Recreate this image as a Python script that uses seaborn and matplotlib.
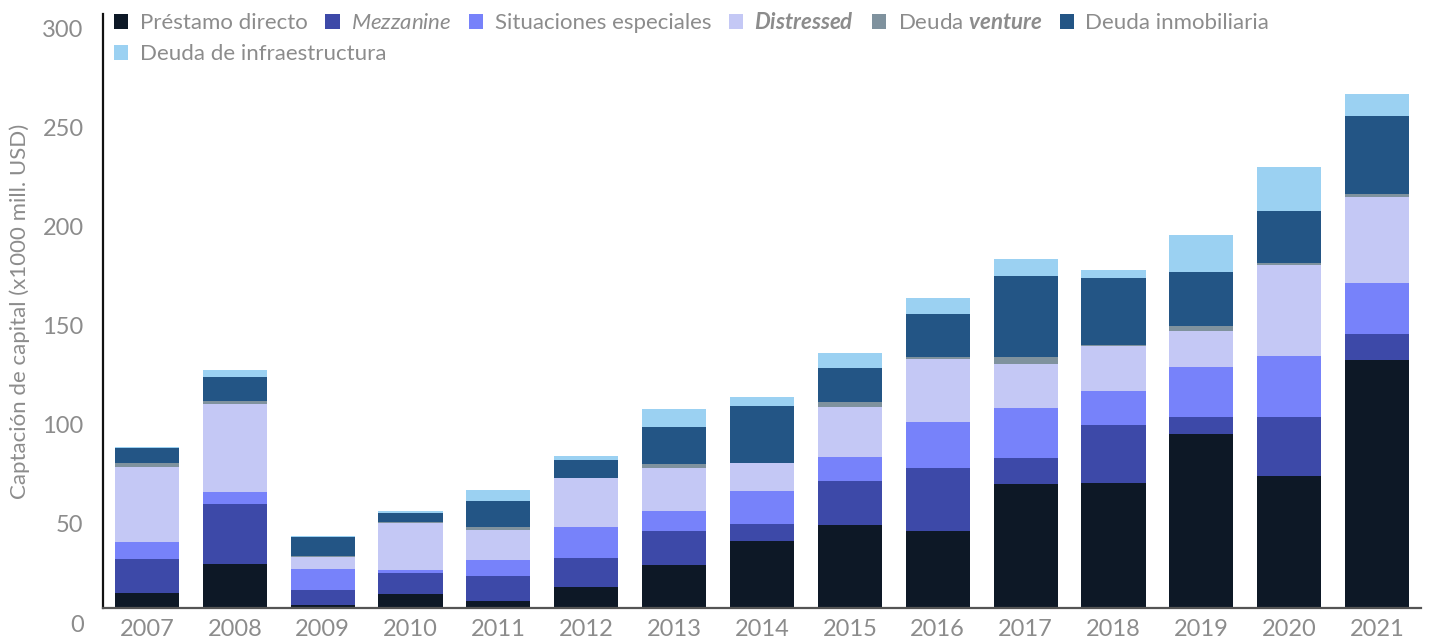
import numpy as np
import pandas as pd
import matplotlib
matplotlib.use("Agg")
import matplotlib.pyplot as plt
import matplotlib.transforms as mtransforms
from matplotlib.patches import Patch
import seaborn as sns

# ---------------- data ----------------
years = ["2007", "2008", "2009", "2010", "2011", "2012", "2013", "2014",
         "2015", "2016", "2017", "2018", "2019", "2020", "2021"]
prestamo_directo = [7.6, 22.2, 1.5, 7.1, 3.5, 10.6, 21.7, 33.8, 41.9, 38.9, 62.6, 63.1, 87.9, 66.7, 125.3]
mezzanine = [17.2, 30.3, 7.6, 10.6, 12.6, 14.6, 17.2, 8.6, 22.2, 31.8, 13.1, 29.3, 8.6, 29.8, 13.1]
situaciones_especiales = [8.6, 6.1, 10.6, 1.5, 8.1, 15.7, 10.1, 16.7, 12.1, 23.2, 25.3, 17.2, 25.3, 30.8, 25.8]
distressed = [37.9, 44.4, 6.1, 23.7, 15.2, 24.7, 21.7, 14.1, 25.3, 31.8, 22.2, 22.7, 18.2, 46.0, 43.4]
deuda_venture = [2.0, 1.5, 0.7, 0.5, 1.5, 0.3, 2.0, 0.0, 2.5, 1.0, 3.5, 0.5, 2.5, 1.0, 1.5]
deuda_inmobiliaria = [7.6, 12.1, 9.4, 4.5, 13.1, 9.1, 18.7, 28.8, 17.2, 21.7, 40.9, 33.8, 27.3, 26.3, 39.4]
deuda_infraestructura = [0.4, 3.5, 0.5, 1.0, 5.6, 2.0, 9.1, 4.5, 7.6, 8.1, 8.6, 4.0, 18.7, 22.2, 11.1]

series_labels = [
    "Préstamo directo",
    r"$\it{Mezzanine}$",
    "Situaciones especiales",
    r"$\mathbfit{Distressed}$",
    r"Deuda $\mathbfit{venture}$",
    "Deuda inmobiliaria",
    "Deuda de infraestructura",
]
series_values = [prestamo_directo, mezzanine, situaciones_especiales, distressed,
                 deuda_venture, deuda_inmobiliaria, deuda_infraestructura]
colors = ["#0d1826", "#3d49a8", "#7782fa", "#c4c8f5", "#7f929e", "#235585", "#9bd1f2"]

y_ticks = [0, 50, 100, 150, 200, 250, 300]
y_label = "Captación de capital (x1000 mill. USD)"

# ---------------- style ----------------
sns.set_theme(style="white")
plt.rcParams["font.family"] = ["Lato", "DejaVu Sans"]
plt.rcParams["mathtext.fontset"] = "custom"
plt.rcParams["mathtext.rm"] = "Lato"
plt.rcParams["mathtext.it"] = "Lato:italic"
plt.rcParams["mathtext.bf"] = "Lato:bold"
plt.rcParams["mathtext.bfit"] = "Lato:italic:bold"

text_gray = "#8c8c8c"

fig = plt.figure(figsize=(14.31, 6.38), dpi=100)
ax = fig.add_axes([103 / 1431, 1 - 608 / 638, 1318 / 1431, 594 / 638])

cum = np.zeros(len(years))
cums = []
for vals in series_values:
    cum = cum + np.array(vals)
    cums.append(cum.copy())

# draw from top layer to bottom so lower layers overlay (stacked look)
for i in range(len(series_values) - 1, -1, -1):
    d = pd.DataFrame({"year": years, "value": cums[i]})
    sns.barplot(data=d, x="year", y="value", order=years, color=colors[i],
                saturation=1, width=0.73, ax=ax, linewidth=0, edgecolor="none")

ax.set_xlim(-0.5, 14.5)
ax.set_ylim(0, 300)
ax.set_yticks(y_ticks)
ax.set_yticklabels([str(t) for t in y_ticks])
ax.set_xlabel("")
ax.set_ylabel(y_label, color=text_gray, fontsize=16)
ax.yaxis.set_label_coords(-0.0555, 0.5)

ax.tick_params(axis="y", length=0, pad=14, labelsize=17, labelcolor=text_gray)
ax.tick_params(axis="x", length=0, pad=8, labelsize=17, labelcolor=text_gray)

offset = mtransforms.ScaledTranslation(0, -15 / 100, fig.dpi_scale_trans)
for lab in ax.get_yticklabels():
    lab.set_transform(lab.get_transform() + offset)

for side in ["top", "right"]:
    ax.spines[side].set_visible(False)
ax.spines["left"].set_color("#111111")
ax.spines["left"].set_linewidth(1.6)
ax.spines["bottom"].set_color("#555555")
ax.spines["bottom"].set_linewidth(1.6)

# legend: first row with six entries, second row with one
handles = [Patch(facecolor=c, edgecolor="none") for c in colors]
leg_kw = dict(frameon=False, fontsize=16, handlelength=0.65, handleheight=0.65,
              handletextpad=0.5, columnspacing=0.8, borderpad=0, borderaxespad=0,
              labelcolor=text_gray)
leg1 = fig.legend(handles[:6], series_labels[:6], ncol=6, loc="upper left",
                  bbox_to_anchor=(114 / 1431, 1 - 12 / 638), **leg_kw)
leg2 = fig.legend(handles[6:], series_labels[6:], ncol=1, loc="upper left",
                  bbox_to_anchor=(114 / 1431, 1 - 44 / 638), **leg_kw)

fig.savefig("out.png", dpi=100)
